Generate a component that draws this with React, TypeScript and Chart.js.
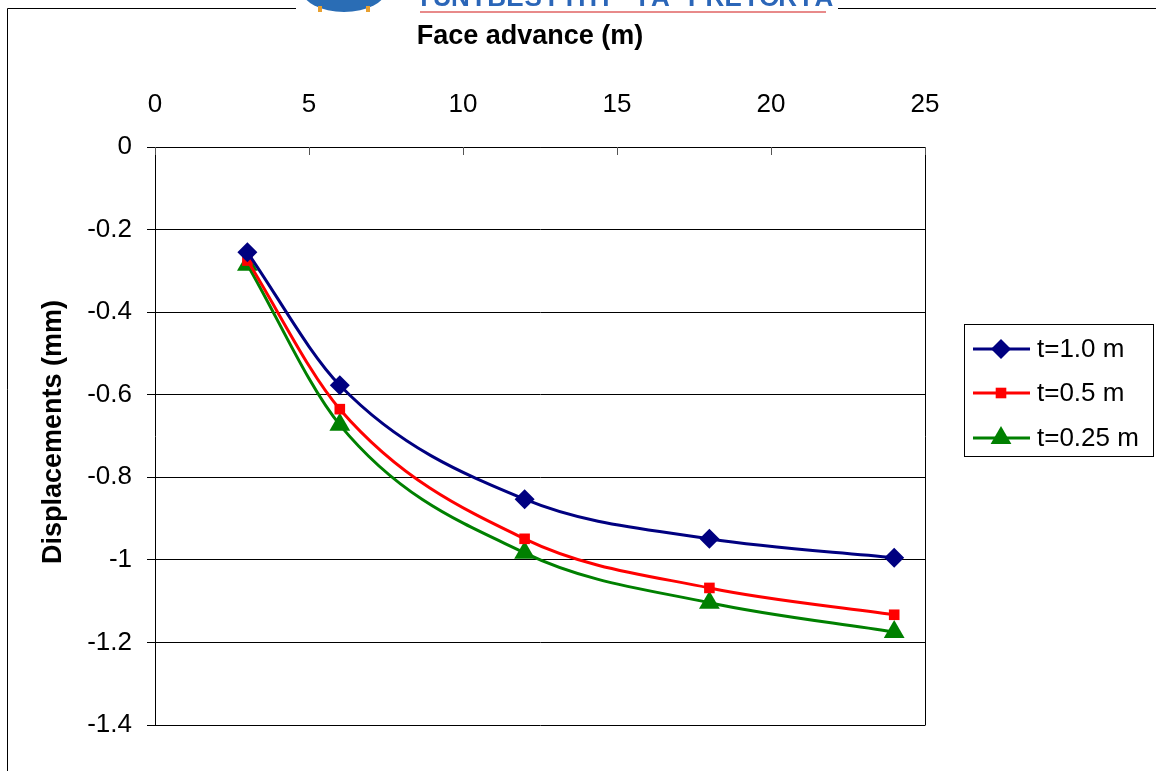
import React, { useEffect, useRef } from "react";
import { Chart, registerables } from "chart.js";

Chart.register(...registerables);

const faceAdvance = [3, 6, 12, 18, 24];
const dispT100 = [-0.255, -0.577, -0.853, -0.949, -0.995];
const dispT050 = [-0.275, -0.635, -0.949, -1.068, -1.133];
const dispT025 = [-0.285, -0.673, -0.983, -1.104, -1.175];
const seriesLabels = ["t=1.0 m", "t=0.5 m", "t=0.25 m"];
const seriesColors = ["#000080", "#FF0000", "#008000"];
const seriesMarkers = ["rectRot", "rect", "triangle"];
const seriesMarkerSizes = [10, 7.5, 12];
const xTickValues = [0, 5, 10, 15, 20, 25];
const yTickValues = [0, -0.2, -0.4, -0.6, -0.8, -1, -1.2, -1.4];
const xTitle = "Face advance (m)";
const yTitle = "Displacements (mm)";
const logoText = "YUNIBESITHI YA PRETORIA";

const FONT = "'Liberation Sans', Arial, sans-serif";

function drawMarker(ctx: CanvasRenderingContext2D, style: string, r: number, x: number, y: number) {
  ctx.beginPath();
  if (style === "rectRot") {
    ctx.moveTo(x, y - r);
    ctx.lineTo(x + r, y);
    ctx.lineTo(x, y + r);
    ctx.lineTo(x - r, y);
  } else if (style === "rect") {
    const s = r * Math.SQRT1_2;
    ctx.rect(x - s, y - s, 2 * s, 2 * s);
  } else {
    const h = r * 1.5;
    const w = r * Math.sqrt(3);
    ctx.moveTo(x, y - r);
    ctx.lineTo(x + w / 2, y - r + h);
    ctx.lineTo(x - w / 2, y - r + h);
  }
  ctx.closePath();
  ctx.fill();
}

const decorPlugin = {
  id: "decor",
  afterDraw(chart: any) {
    const ctx = chart.ctx as CanvasRenderingContext2D;
    const ca = chart.chartArea;
    ctx.save();
    // right border of plot
    ctx.strokeStyle = "#000";
    ctx.lineWidth = 1;
    ctx.beginPath();
    ctx.moveTo(Math.round(ca.right) + 0.5, ca.top);
    ctx.lineTo(Math.round(ca.right) + 0.5, ca.bottom + 0.5);
    ctx.stroke();
    // x ticks inside
    const xs = chart.scales.x;
    ctx.strokeStyle = "#555";
    xTickValues.forEach((v) => {
      const px = Math.round(xs.getPixelForValue(v)) + 0.5;
      ctx.beginPath();
      ctx.moveTo(px, ca.top);
      ctx.lineTo(px, ca.top + 8);
      ctx.stroke();
    });
    // outer frame
    ctx.strokeStyle = "#000";
    ctx.beginPath();
    ctx.moveTo(7.5, 771);
    ctx.lineTo(7.5, 8.5);
    ctx.lineTo(296, 8.5);
    ctx.moveTo(838, 8.5);
    ctx.lineTo(1156, 8.5);
    ctx.stroke();
    // logo stand-in (cut off at the top of the page)
    ctx.fillStyle = "#2a6db5";
    ctx.beginPath();
    ctx.ellipse(344, -10, 42, 22, 0, 0, Math.PI * 2);
    ctx.fill();
    ctx.fillStyle = "#e8a030";
    ctx.fillRect(318, 6, 4, 6);
    ctx.fillRect(366, 6, 4, 6);
    ctx.fillStyle = "#2b66b8";
    ctx.font = `bold 26px ${FONT}`;
    ctx.textAlign = "center";
    ctx.textBaseline = "alphabetic";
    const step = 400 / (logoText.length - 1);
    for (let i = 0; i < logoText.length; i++) {
      ctx.fillText(logoText[i], 424 + i * step, 6);
    }
    ctx.strokeStyle = "#e88a8a";
    ctx.lineWidth = 2;
    ctx.beginPath();
    ctx.moveTo(420, 12);
    ctx.lineTo(826, 12);
    ctx.stroke();
    // axis titles
    ctx.fillStyle = "#000";
    ctx.font = `bold 27px ${FONT}`;
    ctx.textAlign = "center";
    ctx.textBaseline = "middle";
    ctx.fillText(xTitle, 530, 37);
    ctx.save();
    ctx.translate(54, 432);
    ctx.rotate(-Math.PI / 2);
    ctx.fillText(yTitle, 0, 0);
    ctx.restore();
    // legend
    ctx.strokeStyle = "#000";
    ctx.lineWidth = 1;
    ctx.strokeRect(964.5, 324.5, 189, 132);
    const rows = [349, 393, 438];
    chart.data.datasets.forEach((ds: any, i: number) => {
      const y = rows[i];
      ctx.strokeStyle = ds.borderColor;
      ctx.lineWidth = 3;
      ctx.beginPath();
      ctx.moveTo(973, y);
      ctx.lineTo(1030, y);
      ctx.stroke();
      ctx.fillStyle = ds.borderColor;
      drawMarker(ctx, seriesMarkers[i], seriesMarkerSizes[i], 1001, y);
      ctx.fillStyle = "#000";
      ctx.font = `26px ${FONT}`;
      ctx.textAlign = "left";
      ctx.textBaseline = "middle";
      ctx.fillText(ds.label, 1037, y + 1);
    });
    ctx.restore();
  },
};

export default function App() {
  const ref = useRef<HTMLCanvasElement | null>(null);
  useEffect(() => {
    if (!ref.current) return;
    const series = [dispT100, dispT050, dispT025];
    const chart = new Chart(ref.current, {
      type: "line",
      data: {
        datasets: series.map((vals, i) => ({
          label: seriesLabels[i],
          data: faceAdvance.map((x, j) => ({ x, y: vals[j] })),
          borderColor: seriesColors[i],
          backgroundColor: seriesColors[i],
          borderWidth: 3,
          pointStyle: seriesMarkers[i] as any,
          pointRadius: seriesMarkerSizes[i],
          pointHoverRadius: seriesMarkerSizes[i],
          pointBorderWidth: 0,
          cubicInterpolationMode: "monotone" as const,
          fill: false,
        })),
      },
      options: {
        animation: false,
        responsive: false,
        devicePixelRatio: 1,
        layout: { padding: { left: 0, top: 0, right: 231, bottom: 46 } },
        plugins: { legend: { display: false }, tooltip: { enabled: false } },
        scales: {
          x: {
            type: "linear",
            position: "top",
            min: 0,
            max: 25,
            afterBuildTicks: (s: any) => {
              s.ticks = xTickValues.map((v) => ({ value: v }));
            },
            afterFit: (s: any) => {
              s.height = 147;
            },
            ticks: {
              padding: 27,
              color: "#000",
              font: { family: FONT, size: 26 },
            },
            grid: { drawOnChartArea: false, drawTicks: false },
            border: { display: true, color: "#000", width: 1 },
          },
          y: {
            type: "linear",
            min: -1.4,
            max: 0,
            afterBuildTicks: (s: any) => {
              s.ticks = yTickValues.map((v) => ({ value: v }));
            },
            afterFit: (s: any) => {
              s.width = 155;
            },
            ticks: {
              padding: 15,
              color: "#000",
              font: { family: FONT, size: 26 },
              callback: (v: any) => String(Math.round(Number(v) * 10) / 10),
            },
            grid: { color: "#000", lineWidth: 1, tickLength: 8, drawTicks: true },
            border: { display: true, color: "#000", width: 1 },
          },
        },
      },
      plugins: [decorPlugin],
    });
    return () => chart.destroy();
  }, []);
  return (
    <div style={{ position: "fixed", left: 0, top: 0, width: 1156, height: 771, background: "#fff" }}>
      <canvas ref={ref} width={1156} height={771} style={{ display: "block", width: 1156, height: 771 }} />
    </div>
  );
}
